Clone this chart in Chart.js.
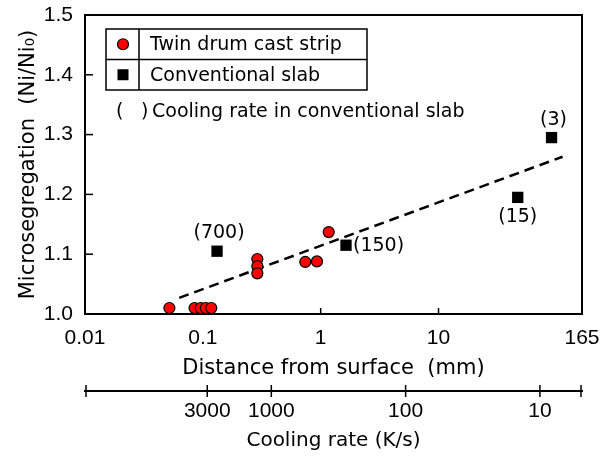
<!DOCTYPE html>
<html>
<head>
<meta charset="utf-8">
<script src="https://cdn.jsdelivr.net/npm/chart.js@4/dist/chart.umd.min.js"></script>
<style>
  html, body { margin: 0; padding: 0; background: #fff; }
</style>
</head>
<body>
<canvas id="myChart" width="609" height="460"></canvas>
<script>
// values: distance from surface (mm) vs Ni/Ni0
const stripDistance = [0.052, 0.085, 0.096, 0.106, 0.118, 0.29, 0.29, 0.29, 0.74, 0.93, 1.17];
const stripSeg      = [1.010, 1.010, 1.010, 1.010, 1.010, 1.092, 1.080, 1.068, 1.087, 1.088, 1.137];

const slabDistance = [0.132, 1.64, 47, 91];
const slabSeg      = [1.105, 1.115, 1.195, 1.295];
const slabCooling  = ['(700)', '(150)', '(15)', '(3)'];

const trendDistance = [0.063, 113];
const trendSeg      = [1.027, 1.263];

const distanceTicks = [0.01, 0.1, 1, 10, 165];
const coolingTicks  = [3000, 1000, 100, 10];
const segTicks      = [1.0, 1.1, 1.2, 1.3, 1.4, 1.5];

const textFont  = '"DejaVu Sans", sans-serif';
const digitFont = '"Liberation Sans Narrow", "Liberation Sans", sans-serif';

Chart.defaults.color = '#000';
Chart.defaults.font.family = textFont;

function toPoints(xs, ys) {
    return xs.map((x, i) => ({ x: x, y: ys[i] }));
}

// frame, inward ticks, crossing ticks on cooling axis, table legend, point labels
const decorations = {
    id: 'decorations',
    beforeDatasetsDraw(chart) {
        const ctx = chart.ctx;
        const a = chart.chartArea;
        ctx.save();
        ctx.strokeStyle = '#000';
        ctx.lineWidth = 2;
        ctx.strokeRect(a.left, a.top, a.right - a.left, a.bottom - a.top);

        ctx.lineWidth = 1.5;
        const x = chart.scales.x;
        distanceTicks.slice(1, -1).forEach(v => {
            const px = x.getPixelForValue(v);
            ctx.beginPath(); ctx.moveTo(px, a.bottom); ctx.lineTo(px, a.bottom - 6); ctx.stroke();
        });
        const y = chart.scales.y;
        segTicks.slice(1, -1).forEach(v => {
            const py = y.getPixelForValue(v);
            ctx.beginPath(); ctx.moveTo(a.left, py); ctx.lineTo(a.left + 8, py); ctx.stroke();
        });
        const x2 = chart.scales.x2;
        const ay = x2.top;
        const marks = coolingTicks.map(v => x2.getPixelForValue(v)).concat([x2.left + 1, x2.right - 1]);
        marks.forEach(px => {
            ctx.beginPath(); ctx.moveTo(px, ay - 6); ctx.lineTo(px, ay + 6); ctx.stroke();
        });
        ctx.restore();
    },
    afterDatasetsDraw(chart) {
        const ctx = chart.ctx;
        const a = chart.chartArea;
        ctx.save();

        // legend table
        const bx = a.left + 21, by = a.top + 14, bw = 261, bh = 61;
        ctx.strokeStyle = '#000';
        ctx.lineWidth = 1.5;
        ctx.strokeRect(bx, by, bw, bh);
        ctx.beginPath();
        ctx.moveTo(bx, by + bh / 2); ctx.lineTo(bx + bw, by + bh / 2);
        ctx.moveTo(bx + 33, by); ctx.lineTo(bx + 33, by + bh);
        ctx.stroke();

        const ds = chart.data.datasets;
        const rowY = [by + bh / 4, by + bh * 3 / 4];
        const mx = bx + 17;
        ctx.beginPath();
        ctx.arc(mx, rowY[0], 5.5, 0, Math.PI * 2);
        ctx.fillStyle = ds[0].backgroundColor;
        ctx.fill();
        ctx.lineWidth = 1.2;
        ctx.stroke();
        ctx.fillStyle = ds[1].backgroundColor;
        ctx.fillRect(mx - 5.5, rowY[1] - 5.5, 11, 11);

        ctx.fillStyle = '#000';
        ctx.font = '19px ' + textFont;
        ctx.textBaseline = 'middle';
        ctx.textAlign = 'left';
        ctx.fillText(ds[0].label, bx + 44, rowY[0] + 1);
        ctx.fillText(ds[1].label, bx + 44, rowY[1] + 1);

        // note below the legend
        const ny = by + bh + 22;
        ctx.fillText('(', bx + 10, ny);
        ctx.fillText(')', bx + 35, ny);
        ctx.fillText('Cooling rate in conventional slab', bx + 46, ny);

        // cooling-rate labels beside slab points
        const meta = chart.getDatasetMeta(1);
        const anchors = ['top', 'right', 'bottom', 'top'];
        meta.data.forEach((pt, i) => {
            const t = slabCooling[i];
            if (anchors[i] === 'top') {
                ctx.textAlign = 'center';
                ctx.fillText(t, pt.x + 2, pt.y - 18);
            } else if (anchors[i] === 'bottom') {
                ctx.textAlign = 'center';
                ctx.fillText(t, pt.x, pt.y + 20);
            } else {
                ctx.textAlign = 'left';
                ctx.fillText(t, pt.x + 7, pt.y + 1);
            }
        });
        ctx.restore();
    }
};

const config = {
    type: 'scatter',
    data: {
        datasets: [
            {
                label: 'Twin drum cast strip',
                data: toPoints(stripDistance, stripSeg),
                pointStyle: 'circle',
                pointRadius: 5.5,
                backgroundColor: '#ff0000',
                borderColor: '#000',
                borderWidth: 1.2,
                order: 0
            },
            {
                label: 'Conventional slab',
                data: toPoints(slabDistance, slabSeg),
                pointStyle: 'rect',
                pointRadius: 8,
                backgroundColor: '#000',
                borderColor: '#000',
                borderWidth: 0,
                order: 0
            },
            {
                type: 'line',
                label: 'trend',
                data: toPoints(trendDistance, trendSeg),
                showLine: true,
                borderColor: '#000',
                borderWidth: 2.5,
                borderDash: [10, 6],
                pointRadius: 0,
                fill: false,
                order: 1
            }
        ]
    },
    options: {
        responsive: false,
        animation: false,
        events: [],
        layout: { padding: { left: 0, right: 27, top: 15, bottom: 0 } },
        plugins: {
            legend: { display: false },
            tooltip: { enabled: false }
        },
        scales: {
            x: {
                type: 'logarithmic',
                position: 'bottom',
                min: 0.01,
                max: 165,
                afterBuildTicks: s => { s.ticks = distanceTicks.map(v => ({ value: v })); },
                afterFit: s => { s.height = 77; },
                grid: { display: false },
                border: { display: true, color: '#000', width: 2 },
                ticks: {
                    font: { family: digitFont, size: 21 },
                    padding: 4,
                    maxRotation: 0,
                    autoSkip: false,
                    callback: v => String(v)
                },
                title: {
                    display: true,
                    text: 'Distance from surface  (mm)',
                    font: { family: textFont, size: 21 },
                    padding: { top: 0, bottom: 10 }
                }
            },
            x2: {
                type: 'logarithmic',
                axis: 'x',
                position: 'bottom',
                reverse: true,
                min: 4.86,
                max: 24400,
                afterBuildTicks: s => { s.ticks = coolingTicks.map(v => ({ value: v })); },
                afterFit: s => { s.height = 69; },
                grid: { display: false },
                border: { display: true, color: '#000', width: 2 },
                ticks: {
                    font: { family: digitFont, size: 21 },
                    padding: 0,
                    maxRotation: 0,
                    autoSkip: false,
                    callback: v => String(v)
                },
                title: {
                    display: true,
                    text: 'Cooling rate (K/s)',
                    font: { family: textFont, size: 20 },
                    padding: { top: 0, bottom: 7 }
                }
            },
            y: {
                type: 'linear',
                min: 1.0,
                max: 1.5,
                afterBuildTicks: s => { s.ticks = segTicks.map(v => ({ value: v })); },
                afterFit: s => { s.width = 85; },
                grid: { display: false },
                border: { display: true, color: '#000', width: 2 },
                ticks: {
                    font: { family: digitFont, size: 21, lineHeight: 1 },
                    padding: 4,
                    callback: v => v.toFixed(1)
                },
                title: {
                    display: true,
                    text: 'Microsegregation  (Ni/Ni\u2080)',
                    font: { family: textFont, size: 21 },
                    padding: { top: 16, bottom: 0 }
                }
            }
        }
    },
    plugins: [decorations]
};

var myChart = new Chart(document.getElementById('myChart'), config);
</script>
</body>
</html>
